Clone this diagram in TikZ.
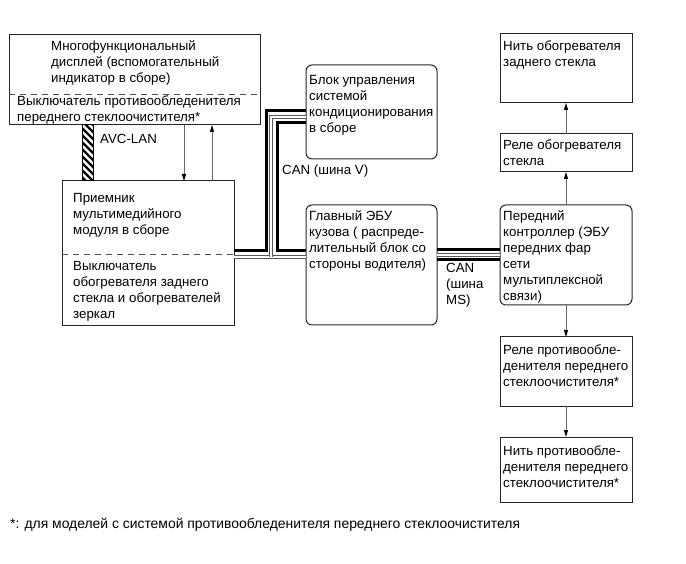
\documentclass[tikz,border=0pt]{standalone}
\usepackage{fontspec}
\setmainfont{Liberation Sans}
\usetikzlibrary{arrows.meta}

\tikzset{
  box/.style={draw=black!85, line width=1pt, inner sep=0pt, outer sep=0pt, anchor=north west},
  rbox/.style={box, rounded corners=6pt},
  txt/.style={anchor=north west, inner sep=0pt, align=left, font=\fontsize{13.3}{16}\selectfont},
  divider/.style={draw=black!70, line width=0.9pt, dash pattern=on 6pt off 5pt},
  sig/.style={draw=black!60, line width=0.9pt, -{Triangle[length=7pt,width=4pt,color=black]}},
  canhi/.style={draw=black, line width=3pt},
  canlo/.style={draw=black!65, line width=1.1pt, double=white, double distance=1.5pt},
  avcbar/.style={draw=black, line width=1pt, fill=white, inner sep=0pt, outer sep=0pt,
    path picture={
      \foreach \k in {0,...,11}
        \draw[line width=2.3pt] ([shift={(-3,\k*7-14)}]path picture bounding box.north west) -- ++(16,16);
    }},
}

\begin{document}
\begin{tikzpicture}[x=1pt,y=-1pt]
  \useasboundingbox (0,0) rectangle (686,564);

  % left column
  \node[box, minimum width=251, minimum height=90] (disp) at (9,35) {};
  \node[txt] (disptop) at ([shift={(42,5)}]disp.north west) {Многофункциональный\\дисплей (вспомогательный\\индикатор в сборе)};
  \draw[divider] (disp.west |- 0,94) -- (disp.east |- 0,94);
  \node[txt] (dispbot) at ([shift={(8,61)}]disp.north west) {Выключатель противообледенителя\\переднего стеклоочистителя*};

  \node[box, minimum width=172, minimum height=145] (recv) at (62,181) {};
  \node[txt] (recvtop) at ([shift={(11,12.5)}]recv.north west) {Приемник\\мультимедийного\\модуля в сборе};
  \draw[divider] (recv.west |- 0,254) -- (recv.east |- 0,254);
  \node[txt] (recvbot) at ([shift={(11,80)}]recv.north west) {Выключатель\\обогревателя заднего\\стекла и обогревателей\\зеркал};

  \node[avcbar, minimum width=11, minimum height=56, anchor=north west] (avc) at (disp.south -| 82,0) {};
  \node[txt] (avclbl) at (100,134.5) {AVC-LAN};

  \draw[sig] (disp.south -| 184,0) -- (recv.north -| 184,0);
  \draw[sig] (recv.north -| 212,0) -- (disp.south -| 212,0);

  % middle column
  \node[rbox, minimum width=131, minimum height=94] (ac) at (306,65) {};
  \node[txt] (actxt) at ([shift={(3,10)}]ac.north west) {Блок управления\\системой\\кондиционирования\\в сборе};

  \node[rbox, minimum width=131, minimum height=120] (body) at (306,205) {};
  \node[txt] (bodytxt) at ([shift={(3,5.5)}]body.north west) {Главный ЭБУ\\кузова ( распреде-\\лительный блок со\\стороны водителя)};

  \node[txt] (canv) at (282,164.5) {CAN (шина V)};
  \node[txt] (canms) at (446,263.5) {CAN\\(шина\\MS)};

  % right column
  \node[box, minimum width=132, minimum height=69] (rfil) at (500,34) {};
  \node[txt] (rfiltxt) at ([shift={(3,6.5)}]rfil.north west) {Нить обогревателя\\заднего стекла};

  \node[box, minimum width=132, minimum height=38] (rrelay) at (500,134) {};
  \node[txt] (rrelaytxt) at ([shift={(3,5.5)}]rrelay.north west) {Реле обогревателя\\стекла};

  \node[rbox, minimum width=132, minimum height=100] (ctrl) at (500,205) {};
  \node[txt] (ctrltxt) at ([shift={(3,5.5)}]ctrl.north west) {Передний\\контроллер (ЭБУ\\передних фар\\сети\\мультиплексной\\связи)};

  \node[box, minimum width=132, minimum height=69] (frelay) at (500,337) {};
  \node[txt] (frelaytxt) at ([shift={(3,8)}]frelay.north west) {Реле противообле-\\денителя переднего\\стеклоочистителя*};

  \node[box, minimum width=132, minimum height=65] (ffil) at (500,437) {};
  \node[txt] (ffiltxt) at ([shift={(3,8.5)}]ffil.north west) {Нить противообле-\\денителя переднего\\стеклоочистителя*};

  \draw[sig] (rrelay.north) -- (rfil.south);
  \draw[sig] (ctrl.north) -- (rrelay.south);
  \draw[sig] (ctrl.south) -- (frelay.north);
  \draw[sig] (frelay.south) -- (ffil.north);

  % CAN (V)
  \coordinate (tee) at (271,257);
  \draw[canlo] (recv.east |- 0,257) -- (body.west |- 0,257);
  \draw[canlo] (tee) |- (ac.west |- 0,117);
  \draw[canhi] (recv.east |- 0,251) -| (266,111) -- (ac.west |- 0,111);
  \draw[canhi] (ac.west |- 0,123) -| (277,251) -- (body.west |- 0,251);

  % CAN (MS)
  \draw[canhi] (body.east |- 0,250) -- (ctrl.west |- 0,250);
  \draw[canlo] (body.east |- 0,255) -- (ctrl.west |- 0,255);
  \draw[canhi] (body.east |- 0,260) -- (ctrl.west |- 0,260);

  \node[txt, font=\fontsize{13.9}{16}\selectfont] (note) at (10,517.5) {*: для моделей с системой противообледенителя переднего стеклоочистителя};
\end{tikzpicture}
\end{document}
